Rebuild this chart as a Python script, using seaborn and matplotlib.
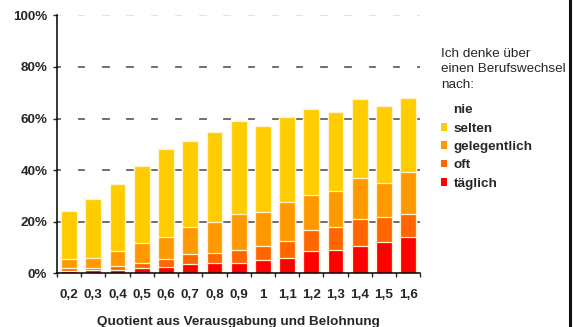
import matplotlib
matplotlib.use("Agg")
import matplotlib.pyplot as plt
from matplotlib.patches import Patch
from matplotlib.lines import Line2D
from matplotlib.ticker import FixedLocator
import numpy as np
import seaborn as sns

# ratio effort / reward
quotient = ["0,2", "0,3", "0,4", "0,5", "0,6", "0,7", "0,8", "0,9",
            "1", "1,1", "1,2", "1,3", "1,4", "1,5", "1,6"]

# shares in percent
taeglich = [0.9, 1.3, 1.5, 1.9, 2.6, 3.5, 3.9, 3.9, 5.0, 5.8, 8.5, 9.0, 10.8, 12.0, 14.1]
oft = [1.0, 0.6, 1.2, 2.1, 3.1, 4.1, 4.1, 5.0, 5.8, 6.7, 8.2, 9.1, 10.4, 9.7, 9.0]
gelegentlich = [3.5, 3.9, 5.9, 7.7, 8.3, 10.3, 11.9, 14.1, 13.1, 15.0, 13.8, 13.9, 15.9, 13.4, 16.0]
selten = [18.9, 23.0, 26.0, 29.9, 34.2, 33.5, 35.0, 36.0, 33.3, 33.0, 33.1, 30.6, 30.5, 29.9, 29.0]

series_names = ["nie", "selten", "gelegentlich", "oft", "täglich"]
colors = {"nie": "#FFFFFF", "selten": "#FFCC00", "gelegentlich": "#FF9900",
          "oft": "#FF6600", "täglich": "#FF0000"}

FS = 9.7

sns.set_style("white")
plt.rcParams["font.family"] = ["Liberation Sans", "DejaVu Sans"]

fig = plt.figure(figsize=(5.74, 3.27), dpi=100)
ax = fig.add_axes([0.0993, 0.164, 0.633, 0.789])

# grid lines behind the bars (the white "nie" part hides them)
for yv in [20, 40, 60, 80]:
    ax.axhline(yv, color="#555555", lw=1.2, zorder=0)
ax.axhline(100, color="#dddddd", lw=1.2, zorder=0)

# cumulative tops, drawn from the tallest layer down
stack = [taeglich, oft, gelegentlich, selten]
cum = np.cumsum(np.array(stack), axis=0)
tops = {
    "nie": np.full(len(quotient), 100.0),
    "selten": cum[3],
    "gelegentlich": cum[2],
    "oft": cum[1],
    "täglich": cum[0],
}
for i, name in enumerate(series_names):
    sns.barplot(x=quotient, y=tops[name], color=colors[name], saturation=1,
                width=0.65, edgecolor="#FFF3D0" if name != "nie" else "white",
                linewidth=0.9, ax=ax, zorder=2 + i)

ax.set_ylim(0, 100)
ax.set_xlim(-0.5, len(quotient) - 0.5)
ax.set_yticks([0, 20, 40, 60, 80, 100])
ax.set_yticklabels(["0%", "20%", "40%", "60%", "80%", "100%"],
                   fontsize=FS, fontweight="bold")
ax.tick_params(axis="y", length=3, width=1, direction="out", pad=4, left=True)
ax.tick_params(axis="x", which="major", length=0, pad=11, labelsize=FS)
for lab in ax.get_xticklabels():
    lab.set_fontweight("bold")
ax.xaxis.set_minor_locator(FixedLocator(np.arange(-0.5, len(quotient), 1.0)))
ax.tick_params(axis="x", which="minor", length=3, width=1, direction="out",
               bottom=True)

ax.set_xlabel("Quotient aus Verausgabung und Belohnung", fontsize=FS,
              fontweight="bold", labelpad=11)
ax.set_ylabel("")

for side in ["top", "right"]:
    ax.spines[side].set_visible(False)
for side in ["left", "bottom"]:
    ax.spines[side].set_color("black")
    ax.spines[side].set_linewidth(1.1)
    ax.spines[side].set_zorder(10)

handles = [Patch(facecolor=colors[n], edgecolor="none") for n in series_names]
leg = fig.legend(handles, series_names, loc="upper left",
                 bbox_to_anchor=(434 / 574, 1 - 41 / 327),
                 title="Ich denke über\neinen Berufswechsel\nnach:",
                 title_fontsize=FS, frameon=False, borderpad=0,
                 handlelength=0.5, handleheight=0.5, handletextpad=0.45,
                 labelspacing=0.47, alignment="left",
                 prop={"size": FS, "weight": "bold"})
leg.get_title().set_linespacing(1.4)
# a bit more room between the title and the entries
leg._legend_box.sep = 0.47 * FS + 5

# dark edge on the right of the picture
fig.add_artist(Line2D([0.9925, 0.9925], [0, 1], transform=fig.transFigure,
                      color="#111111", lw=2.2))

fig.savefig("out.png", dpi=100)
